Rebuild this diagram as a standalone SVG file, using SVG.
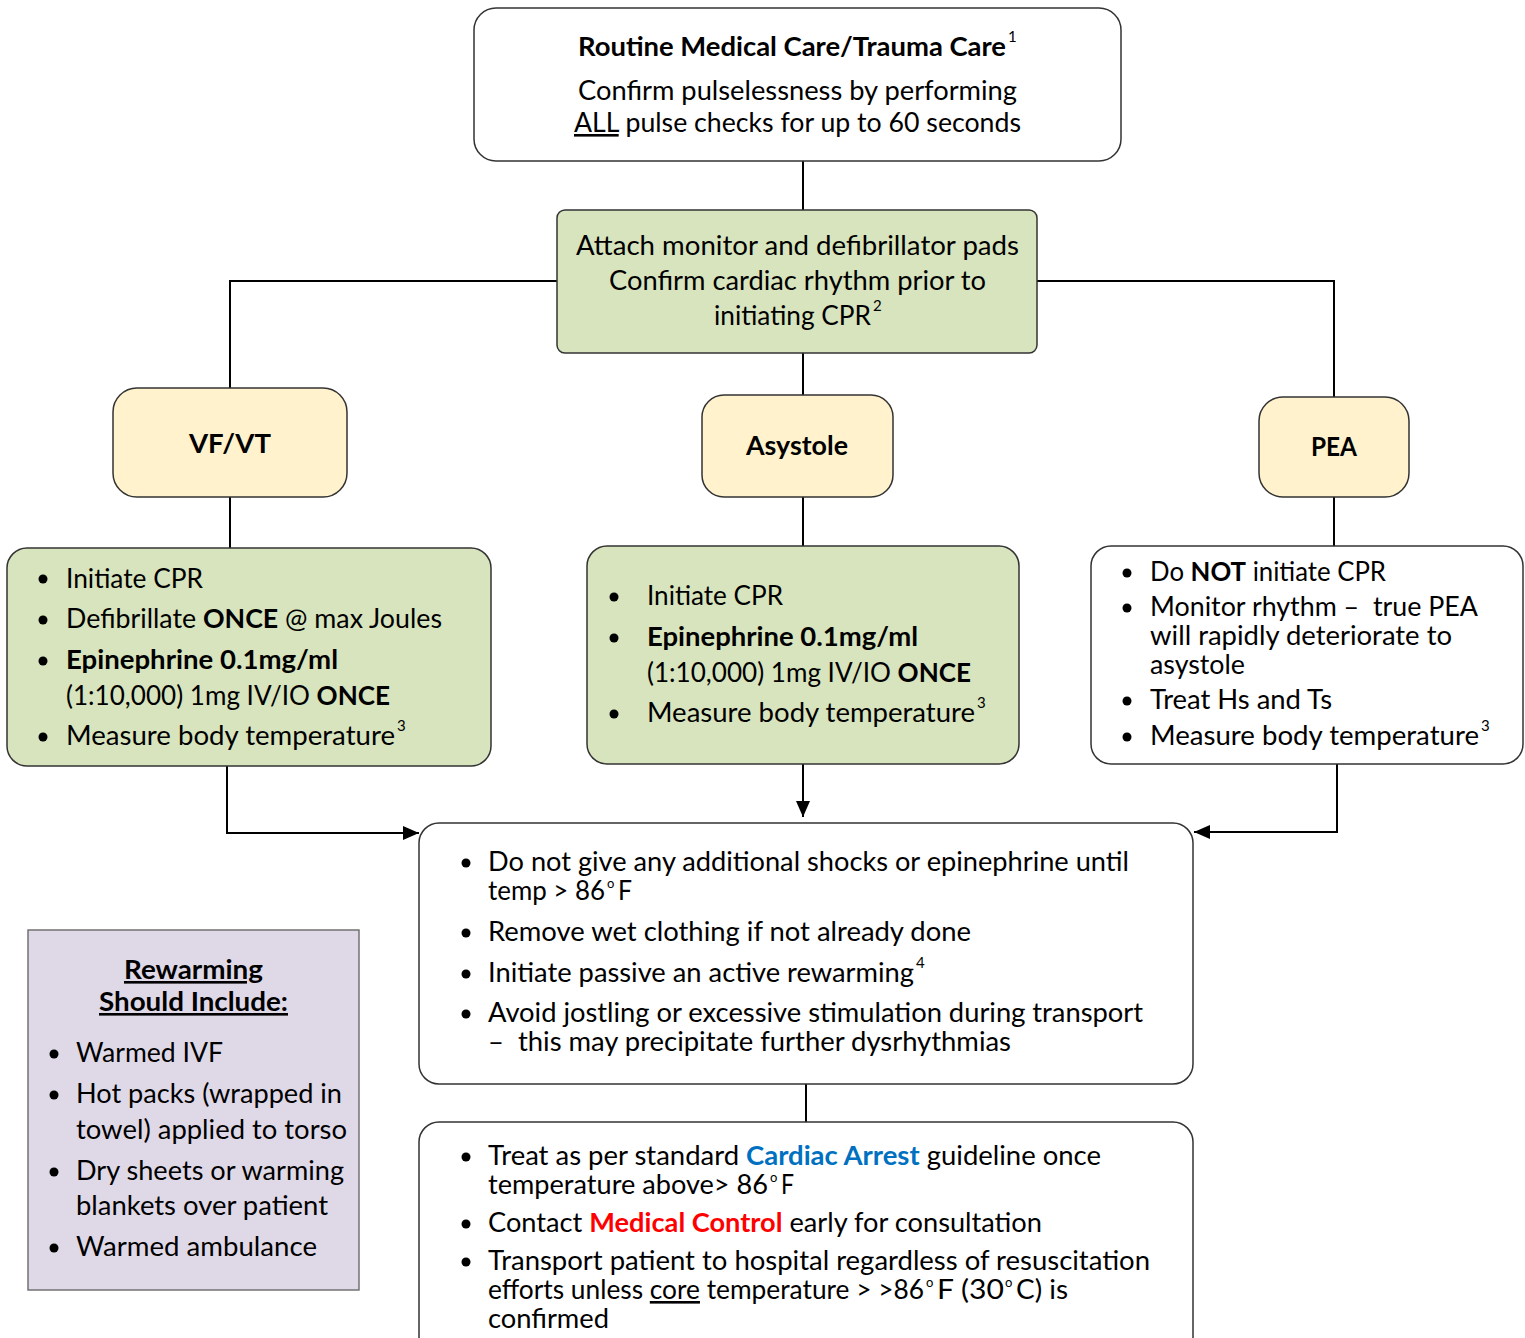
<svg xmlns="http://www.w3.org/2000/svg" width="1525" height="1338" viewBox="0 0 1525 1338">
  <style>
    text { font-family: Lato, "Open Sans", "Liberation Sans", sans-serif; font-size: 26px; fill: #000; }
    .b { font-weight: bold; }
    .sup { font-size: 15px; }
    .deg { font-size: 13px; }
    .u { text-decoration: underline; }
    .box { stroke: #333333; stroke-width: 1.5; }
    .white { fill: #ffffff; }
    .green { fill: #d7e4bd; }
    .yellow { fill: #fff2cc; }
    .lav { fill: #dfd9e7; stroke: #6a6a6a; stroke-width: 1.4; }
    .wire { fill: none; stroke: #000; stroke-width: 2; }
    .dot { fill: #000; }
  </style>
  <defs>
    <marker id="arrow" markerWidth="16" markerHeight="14" refX="16" refY="7" orient="auto" markerUnits="userSpaceOnUse">
      <path d="M0,0 L16,7 L0,14 Z" fill="#000"/>
    </marker>
  </defs>

  <!-- connectors -->
  <g id="connectors">
    <path class="wire" d="M803,161 V210"/>
    <path class="wire" d="M557,281 H230 V388"/>
    <path class="wire" d="M1037,281 H1334 V397"/>
    <path class="wire" d="M803,353 V395"/>
    <path class="wire" d="M230,497 V548"/>
    <path class="wire" d="M803,497 V546"/>
    <path class="wire" d="M1334,497 V546"/>
    <path class="wire" d="M227,766 V833 H419" marker-end="url(#arrow)"/>
    <path class="wire" d="M803,764 V817" marker-end="url(#arrow)"/>
    <path class="wire" d="M1337,764 V832 H1194" marker-end="url(#arrow)"/>
    <path class="wire" d="M806,1084 V1122"/>
  </g>

  <!-- start -->
  <g id="routine-care">
    <rect class="box white" x="474" y="8" width="647" height="153" rx="22"/>
    <text class="b" x="578" y="56" textLength="428" lengthAdjust="spacingAndGlyphs">Routine Medical Care/Trauma Care</text>
    <text class="sup" x="1008" y="42">1</text>
    <text x="578" y="100" textLength="439" lengthAdjust="spacingAndGlyphs">Confirm pulselessness by performing</text>
    <text x="574" y="132" textLength="447" lengthAdjust="spacingAndGlyphs"><tspan class="u">ALL</tspan> pulse checks for up to 60 seconds</text>
  </g>

  <g id="attach-monitor">
    <rect class="box green" x="557" y="210" width="480" height="143" rx="8"/>
    <text x="576" y="255" textLength="443" lengthAdjust="spacingAndGlyphs">Attach monitor and defibrillator pads</text>
    <text x="609" y="290" textLength="377" lengthAdjust="spacingAndGlyphs">Confirm cardiac rhythm prior to</text>
    <text x="714" y="325" textLength="157" lengthAdjust="spacingAndGlyphs">initiating CPR</text>
    <text class="sup" x="873" y="311">2</text>
  </g>

  <!-- rhythm types -->
  <g id="vf-vt">
    <rect class="box yellow" x="113" y="388" width="234" height="109" rx="24"/>
    <text class="b" x="189" y="453" font-size="28" textLength="82" lengthAdjust="spacingAndGlyphs">VF/VT</text>
  </g>
  <g id="asystole">
    <rect class="box yellow" x="702" y="395" width="191" height="102" rx="22"/>
    <text class="b" x="746" y="455" textLength="102" lengthAdjust="spacingAndGlyphs">Asystole</text>
  </g>
  <g id="pea">
    <rect class="box yellow" x="1259" y="397" width="150" height="100" rx="24"/>
    <text class="b" x="1311" y="456" textLength="46" lengthAdjust="spacingAndGlyphs">PEA</text>
  </g>

  <!-- VF/VT actions -->
  <g id="vf-actions">
    <rect class="box green" x="7" y="548" width="484" height="218" rx="20"/>
    <circle class="dot" cx="43" cy="579" r="4.5"/>
    <circle class="dot" cx="43" cy="620" r="4.5"/>
    <circle class="dot" cx="43" cy="661" r="4.5"/>
    <circle class="dot" cx="43" cy="737" r="4.5"/>
    <text x="66" y="588" textLength="137" lengthAdjust="spacingAndGlyphs">Initiate CPR</text>
    <text x="66" y="628" textLength="376" lengthAdjust="spacingAndGlyphs">Defibrillate <tspan class="b">ONCE</tspan> @ max Joules</text>
    <text class="b" x="66" y="669" textLength="272" lengthAdjust="spacingAndGlyphs">Epinephrine 0.1mg/ml</text>
    <text x="66" y="705" textLength="324" lengthAdjust="spacingAndGlyphs">(1:10,000) 1mg IV/IO <tspan class="b">ONCE</tspan></text>
    <text x="66" y="745" textLength="329" lengthAdjust="spacingAndGlyphs">Measure body temperature</text>
    <text class="sup" x="397" y="731">3</text>
  </g>

  <!-- Asystole actions -->
  <g id="asystole-actions">
    <rect class="box green" x="587" y="546" width="432" height="218" rx="20"/>
    <circle class="dot" cx="614" cy="597" r="4.5"/>
    <circle class="dot" cx="614" cy="638" r="4.5"/>
    <circle class="dot" cx="614" cy="714" r="4.5"/>
    <text x="647" y="605" textLength="136" lengthAdjust="spacingAndGlyphs">Initiate CPR</text>
    <text class="b" x="647" y="646" textLength="271" lengthAdjust="spacingAndGlyphs">Epinephrine 0.1mg/ml</text>
    <text x="647" y="682" textLength="324" lengthAdjust="spacingAndGlyphs">(1:10,000) 1mg IV/IO <tspan class="b">ONCE</tspan></text>
    <text x="647" y="722" textLength="328" lengthAdjust="spacingAndGlyphs">Measure body temperature</text>
    <text class="sup" x="977" y="708">3</text>
  </g>

  <!-- PEA actions -->
  <g id="pea-actions">
    <rect class="box white" x="1091" y="546" width="432" height="218" rx="20"/>
    <circle class="dot" cx="1127" cy="573" r="4.5"/>
    <circle class="dot" cx="1127" cy="608" r="4.5"/>
    <circle class="dot" cx="1127" cy="701" r="4.5"/>
    <circle class="dot" cx="1127" cy="737" r="4.5"/>
    <text x="1150" y="581" textLength="236" lengthAdjust="spacingAndGlyphs">Do <tspan class="b">NOT</tspan> initiate CPR</text>
    <text x="1150" y="616" textLength="328" lengthAdjust="spacingAndGlyphs" xml:space="preserve">Monitor rhythm –  true PEA</text>
    <text x="1150" y="645" textLength="302" lengthAdjust="spacingAndGlyphs">will rapidly deteriorate to</text>
    <text x="1150" y="674" textLength="95" lengthAdjust="spacingAndGlyphs">asystole</text>
    <text x="1150" y="709" textLength="182" lengthAdjust="spacingAndGlyphs">Treat Hs and Ts</text>
    <text x="1150" y="745" textLength="329" lengthAdjust="spacingAndGlyphs">Measure body temperature</text>
    <text class="sup" x="1481" y="731">3</text>
  </g>

  <!-- common management -->
  <g id="common-care">
    <rect class="box white" x="419" y="823" width="774" height="261" rx="20"/>
    <circle class="dot" cx="466" cy="863" r="4.5"/>
    <circle class="dot" cx="466" cy="933" r="4.5"/>
    <circle class="dot" cx="466" cy="974" r="4.5"/>
    <circle class="dot" cx="466" cy="1014" r="4.5"/>
    <text x="488" y="871" textLength="641" lengthAdjust="spacingAndGlyphs">Do not give any additional shocks or epinephrine until</text>
    <text x="488" y="900" textLength="117" lengthAdjust="spacingAndGlyphs">temp &gt; 86</text>
    <text class="deg" x="607" y="888">o</text>
    <text x="618" y="900" textLength="14" lengthAdjust="spacingAndGlyphs">F</text>
    <text x="488" y="941" textLength="483" lengthAdjust="spacingAndGlyphs">Remove wet clothing if not already done</text>
    <text x="488" y="982" textLength="426" lengthAdjust="spacingAndGlyphs">Initiate passive an active rewarming</text>
    <text class="sup" x="916" y="968">4</text>
    <text x="488" y="1022" textLength="655" lengthAdjust="spacingAndGlyphs">Avoid jostling or excessive stimulation during transport</text>
    <text x="488" y="1051" textLength="523" lengthAdjust="spacingAndGlyphs" xml:space="preserve">–  this may precipitate further dysrhythmias</text>
  </g>

  <!-- after rewarming -->
  <g id="after-rewarming">
    <rect class="box white" x="419" y="1122" width="774" height="240" rx="20"/>
    <circle class="dot" cx="466" cy="1157" r="4.5"/>
    <circle class="dot" cx="466" cy="1224" r="4.5"/>
    <circle class="dot" cx="466" cy="1262" r="4.5"/>
    <text x="488" y="1165" textLength="613" lengthAdjust="spacingAndGlyphs">Treat as per standard <tspan class="b" fill="#0070c0">Cardiac Arrest</tspan> guideline once</text>
    <text x="488" y="1194" textLength="280" lengthAdjust="spacingAndGlyphs">temperature above&gt; 86</text>
    <text class="deg" x="770" y="1182">o</text>
    <text x="781" y="1194" textLength="13" lengthAdjust="spacingAndGlyphs">F</text>
    <text x="488" y="1232" textLength="554" lengthAdjust="spacingAndGlyphs">Contact <tspan class="b" fill="#ff0000">Medical Control</tspan> early for consultation</text>
    <text x="488" y="1270" textLength="662" lengthAdjust="spacingAndGlyphs">Transport patient to hospital regardless of resuscitation</text>
    <text x="488" y="1299" textLength="436" lengthAdjust="spacingAndGlyphs">efforts unless <tspan class="u">core</tspan> temperature &gt; &gt;86</text>
    <text class="deg" x="926" y="1287">o</text>
    <text x="937" y="1299" textLength="67" lengthAdjust="spacingAndGlyphs">F (30</text>
    <text class="deg" x="1005" y="1287">o</text>
    <text x="1016" y="1299" textLength="52" lengthAdjust="spacingAndGlyphs">C) is</text>
    <text x="488" y="1328" textLength="121" lengthAdjust="spacingAndGlyphs">confirmed</text>
  </g>

  <!-- rewarming legend -->
  <g id="rewarming">
    <rect class="lav" x="28" y="930" width="331" height="360"/>
    <text class="b u" x="124" y="979" textLength="139" lengthAdjust="spacingAndGlyphs">Rewarming</text>
    <text class="b u" x="99" y="1011" textLength="189" lengthAdjust="spacingAndGlyphs">Should Include:</text>
    <circle class="dot" cx="54" cy="1054" r="4.5"/>
    <circle class="dot" cx="54" cy="1095" r="4.5"/>
    <circle class="dot" cx="54" cy="1172" r="4.5"/>
    <circle class="dot" cx="54" cy="1248" r="4.5"/>
    <text x="76" y="1062" textLength="147" lengthAdjust="spacingAndGlyphs">Warmed IVF</text>
    <text x="76" y="1103" textLength="266" lengthAdjust="spacingAndGlyphs">Hot packs (wrapped in</text>
    <text x="76" y="1139" textLength="271" lengthAdjust="spacingAndGlyphs">towel) applied to torso</text>
    <text x="76" y="1180" textLength="268" lengthAdjust="spacingAndGlyphs">Dry sheets or warming</text>
    <text x="76" y="1215" textLength="252" lengthAdjust="spacingAndGlyphs">blankets over patient</text>
    <text x="76" y="1256" textLength="241" lengthAdjust="spacingAndGlyphs">Warmed ambulance</text>
  </g>
</svg>
